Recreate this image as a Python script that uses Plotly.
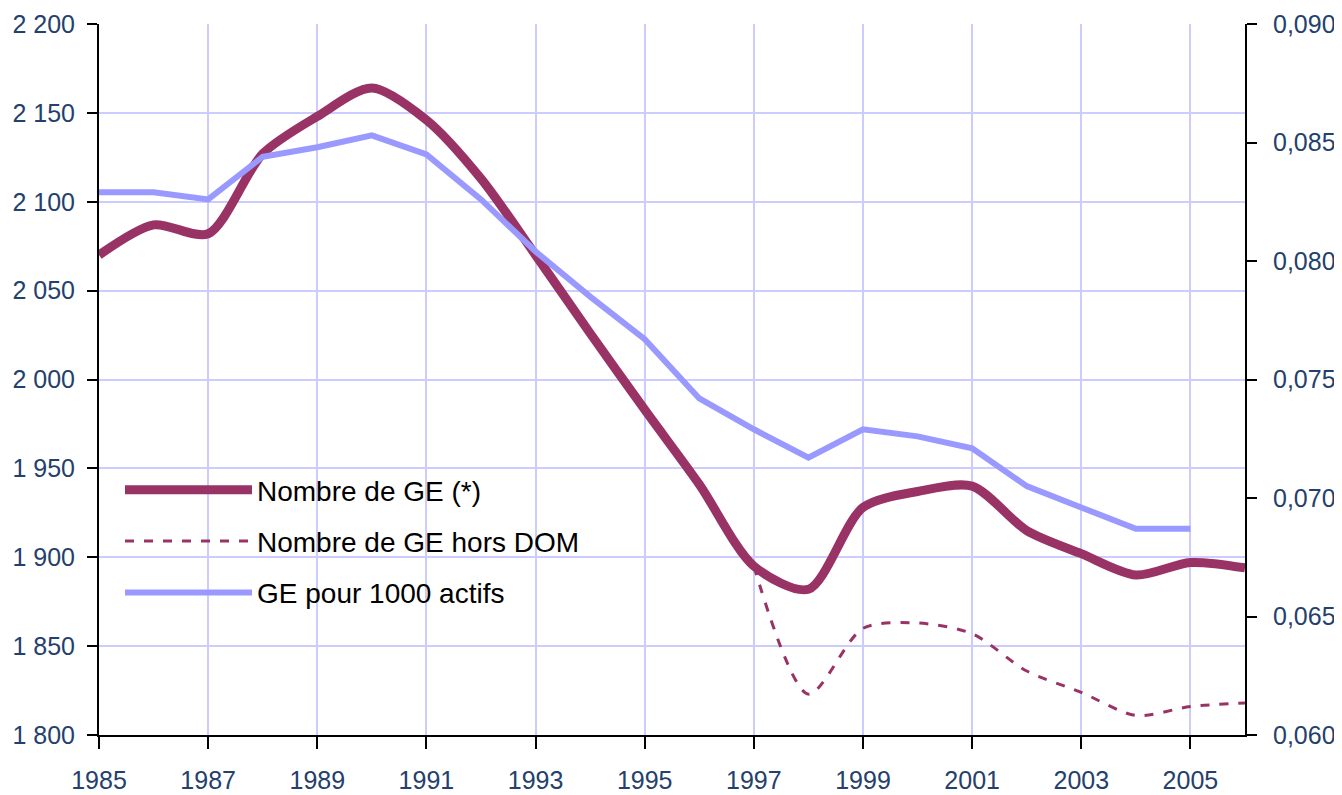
import plotly.graph_objects as go

years = list(range(1985, 2007))
nombre_ge = [2070, 2087, 2082, 2127, 2148, 2164, 2146, 2113, 2070, 2026, 1983,
             1941, 1895, 1882, 1928, 1937, 1940, 1915, 1902, 1890, 1897, 1894]
years_hors_dom = list(range(1997, 2007))
nombre_ge_hors_dom = [1895, 1823, 1860, 1863, 1857, 1836, 1824, 1811, 1816, 1818]
years_ratio = list(range(1985, 2006))
ge_pour_1000 = [0.0829, 0.0829, 0.0826, 0.0844, 0.0848, 0.0853, 0.0845, 0.0826,
                0.0804, 0.0785, 0.0767, 0.0742, 0.0729, 0.0717, 0.0729, 0.0726,
                0.0721, 0.0705, 0.0696, 0.0687, 0.0687]

left_ticks = list(range(1800, 2201, 50))
right_ticks = [0.060, 0.065, 0.070, 0.075, 0.080, 0.085, 0.090]
x_ticks = list(range(1985, 2006, 2))

PLUM = "#993366"
LAV = "#9999FF"
GRID = "#CCCCFF"
TICKCOL = "#24406C"
FONT = "Liberation Sans, Arial, sans-serif"

# page body has an 8px margin, so the figure is 8px smaller and shifted
W, H = 1334, 787
ML, MT = 91, 16
PW, PH = 1146, 711
MR, MB = W - ML - PW, H - MT - PH

fig = go.Figure()
fig.add_trace(go.Scatter(
    x=years, y=nombre_ge, name="Nombre de GE (*)", mode="lines",
    line=dict(color=PLUM, width=9, shape="spline", smoothing=0.8),
    legendgroup="a"))
fig.add_trace(go.Scatter(
    x=years_hors_dom, y=nombre_ge_hors_dom, name="Nombre de GE hors DOM", mode="lines",
    line=dict(color=PLUM, width=3, dash="9px,10px", shape="spline", smoothing=0.8),
    legendgroup="b"))
fig.add_trace(go.Scatter(
    x=years_ratio, y=ge_pour_1000, name="GE pour 1000 actifs", mode="lines",
    line=dict(color=LAV, width=6), yaxis="y2", legendgroup="c"))

# white box behind the legend (covers gridlines like the original)
fig.add_shape(type="rect", xref="paper", yref="paper",
              x0=0.0015, x1=(665 - 99) / PW,
              y0=(735 - 613) / PH, y1=(735 - 465) / PH,
              fillcolor="white", line=dict(width=0), layer="between")

fig.update_layout(
    width=W, height=H,
    margin=dict(l=ML, r=MR, t=MT, b=MB, autoexpand=False),
    paper_bgcolor="white", plot_bgcolor="white",
    separators=", ",
    font=dict(family=FONT, size=24, color=TICKCOL),
    showlegend=True,
    legend=dict(
        x=21 / PW, y=(735 - 465) / PH, xanchor="left", yanchor="top",
        bgcolor="rgba(0,0,0,0)", borderwidth=0,
        font=dict(family=FONT, size=28, color="black"),
        tracegroupgap=12, itemwidth=127,
    ),
    xaxis=dict(
        range=[1985, 2006], tickmode="array", tickvals=x_ticks,
        ticks="outside", ticklen=12, tickwidth=2, tickcolor="black",
        showline=True, linecolor="black", linewidth=2,
        showgrid=True, gridcolor=GRID, gridwidth=1.5,
        zeroline=False, ticklabelstandoff=10, automargin=False,
        tickfont=dict(size=25, color=TICKCOL),
    ),
    yaxis=dict(
        range=[1800, 2200], tickmode="array", tickvals=left_ticks,
        tickformat=",d",
        ticks="outside", ticklen=10, tickwidth=2, tickcolor="black",
        showline=True, linecolor="black", linewidth=2,
        showgrid=True, gridcolor=GRID, gridwidth=1.5,
        zeroline=False, ticklabelstandoff=7, automargin=False,
        tickfont=dict(size=25, color=TICKCOL),
    ),
    yaxis2=dict(
        range=[0.060, 0.090], tickmode="array", tickvals=right_ticks,
        tickformat=".3f", overlaying="y", side="right",
        ticks="outside", ticklen=10, tickwidth=2, tickcolor="black",
        showline=True, linecolor="black", linewidth=2,
        showgrid=False, zeroline=False, ticklabelstandoff=11, automargin=False,
        tickfont=dict(size=25, color=TICKCOL),
    ),
    yaxis3=dict(
        range=[0.060, 0.090], tickmode="array", tickvals=right_ticks,
        overlaying="y", side="right", anchor="x",
        ticks="inside", ticklen=12, tickwidth=2, tickcolor="black",
        showticklabels=False, showline=False,
        showgrid=False, zeroline=False, automargin=False,
    ),
)

fig.write_html("out.html")
